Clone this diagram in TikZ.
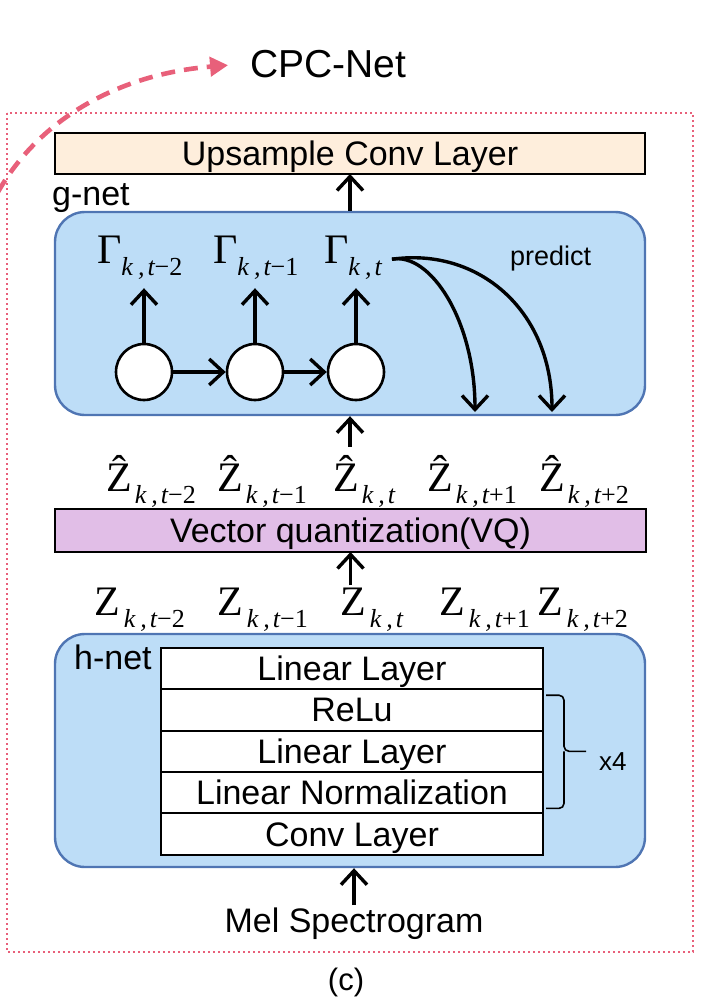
\documentclass[tikz,border=0pt]{standalone}
\usepackage{fontspec}
\setmainfont{Liberation Sans}
\newfontfamily\tms{Liberation Serif}
\usetikzlibrary{positioning,arrows.meta,calc}

\definecolor{netfill}{HTML}{BDDDF7}
\definecolor{netedge}{HTML}{4F75B3}
\definecolor{upfill}{HTML}{FEEEDC}
\definecolor{vqfill}{HTML}{E1BEE7}
\definecolor{cpcred}{HTML}{E8607A}

% subscript "k ,t..." set low and small
\newcommand{\kt}[1]{\raisebox{-12pt}{\fontsize{26}{26}\selectfont\itshape k\hspace{5pt},\hspace{3pt}t\upshape#1}}
\newcommand{\gam}[1]{{\tms\fontsize{42}{42}\selectfont Γ\kt{#1}}}
\newcommand{\zz}[1]{{\tms\fontsize{42}{42}\selectfont Z\hspace{4pt}\kt{#1}}}
\newcommand{\zh}[1]{{\tms\fontsize{42}{42}\selectfont \^{Z}\hspace{3pt}\kt{#1}}}

\tikzset{
  lbl/.style={inner sep=2pt,font=\fontsize{34}{34}\selectfont},
  small/.style={inner sep=2pt,font=\fontsize{27}{27}\selectfont},
  netbox/.style={draw=netedge,fill=netfill,line width=2.4pt,rounded corners=30pt},
  bar/.style={draw,line width=2pt,inner sep=0pt,outer sep=0pt,text height=24pt,text depth=0pt,
    font=\fontsize{34}{34}\selectfont},
  layer/.style={bar,fill=white,minimum width=382pt,minimum height=41.4pt},
  cell/.style={circle,draw,fill=white,line width=2.6pt,minimum size=56pt,inner sep=0pt},
  arr/.style={line width=3.4pt,-{Straight Barb[length=14pt,width=26pt,line width=3.4pt]}},
  brace/.style={line width=1.6pt,rounded corners=5pt},
}

\begin{document}
\begin{tikzpicture}[x=1pt,y=-1pt]
\useasboundingbox (0,0) rectangle (704,1001);

% outer frame and title
\draw[cpcred,line width=2.4pt,dash pattern=on 2.4pt off 2.6pt] (7,113) rectangle (693,952);
\node[inner sep=2pt,font=\fontsize{39}{39}\selectfont,anchor=base west] (cpc) at (248,77) {CPC-Net};
\coordinate (arcstart) at (-2,192);
\draw[cpcred,line width=4.6pt,dash pattern=on 14pt off 9pt,
  -{Triangle[length=18pt,width=19pt]},shorten >=20pt]
  (arcstart) .. controls (40,118) and (120,74) .. (cpc.west);

%%% upsample
\node[bar,fill=upfill,minimum width=590pt,minimum height=41pt] (up) at (350,153.5) {Upsample Conv Layer};

%%% g-net
\node[netbox,minimum width=590pt,minimum height=203pt] (gnet) at (350,313.5) {};
\node[lbl,anchor=base west] (glbl) at (50,205) {g-net};
\draw[arr] (gnet.north) -- (up.south);

\node[cell] (c1) at (144,372) {};
\node[cell] (c2) at (255,372) {};
\node[cell] (c3) at (356,372) {};
\draw[arr] (c1) -- (c2);
\draw[arr] (c2) -- (c3);

\node[inner sep=2pt,anchor=base west] (g1) at (95,263) {\gam{−2}};
\node[inner sep=2pt,anchor=base west] (g2) at (211,263) {\gam{−1}};
\node[inner sep=2pt,anchor=base west] (g3) at (322,263) {\gam{}};
\draw[arr,shorten >=7pt] (c1) -- (c1 |- g1.south);
\draw[arr,shorten >=7pt] (c2) -- (c2 |- g2.south);
\draw[arr,shorten >=7pt] (c3) -- (c3 |- g3.south);

\node[small,anchor=base west] (pred) at (508,265) {predict};
\coordinate (p1) at (475,412);
\coordinate (p2) at (552,412);
\draw[arr] ([xshift=8pt,yshift=-2pt]g3.east) .. controls (430,252) and (475,320) .. (p1);
\draw[arr] ([xshift=8pt,yshift=-2pt]g3.east) .. controls (478,247) and (552,310) .. (p2);

%%% quantized codes
\node[inner sep=2pt,anchor=base west] (zh1) at (104,491) {\zh{−2}};
\node[inner sep=2pt,anchor=base west] (zh2) at (215,491) {\zh{−1}};
\node[inner sep=2pt,anchor=base west] (zh3) at (331,491) {\zh{}};
\node[inner sep=2pt,anchor=base west] (zh4) at (425,491) {\zh{+1}};
\node[inner sep=2pt,anchor=base west] (zh5) at (537,491) {\zh{+2}};
\draw[arr,shorten <=6pt] (gnet.south |- zh3.north) -- (gnet.south);

%%% VQ
\node[bar,fill=vqfill,minimum width=591pt,minimum height=43pt] (vq) at (350.5,530.5) {Vector quantization(VQ)};

\node[inner sep=2pt,anchor=base west] (z1) at (92,615) {\zz{−2}};
\node[inner sep=2pt,anchor=base west] (z2) at (215,615) {\zz{−1}};
\node[inner sep=2pt,anchor=base west] (z3) at (338,615) {\zz{}};
\node[inner sep=2pt,anchor=base west] (z4) at (437,615) {\zz{+1}};
\node[inner sep=2pt,anchor=base west] (z5) at (535,615) {\zz{+2}};
\draw[arr] (vq.south |- z3.north) -- (vq.south);

%%% h-net
\node[netbox,minimum width=590pt,minimum height=233pt] (hnet) at (350,750.5) {};
\node[lbl,anchor=base west] (hlbl) at (72,669) {h-net};

\node[layer] (l1) at (352,668.5) {Linear Layer};
\node[layer,below=0pt of l1] (l2) {ReLu};
\node[layer,below=0pt of l2] (l3) {Linear Layer};
\node[layer,below=0pt of l3] (l4) {Linear Normalization};
\node[layer,below=0pt of l4] (l5) {Conv Layer};

\draw[brace] ($(l2.north east)+(3,6)$) -| ($(l3.east)+(21,0)$) -- ++(22,0);
\draw[brace] ($(l3.east)+(21,0)$) |- ($(l4.south east)+(3,-5)$);
\node[small,anchor=base west,font=\fontsize{26}{26}\selectfont] (rep) at (597,770) {x4};

\node[lbl,anchor=base] (mel) at (354,932) {Mel Spectrogram};
\draw[arr] (mel.north) -- (mel.north |- hnet.south);

\node[lbl,anchor=base,font=\fontsize{31}{31}\selectfont] (cap) at (346,990) {(c)};
\end{tikzpicture}
\end{document}
